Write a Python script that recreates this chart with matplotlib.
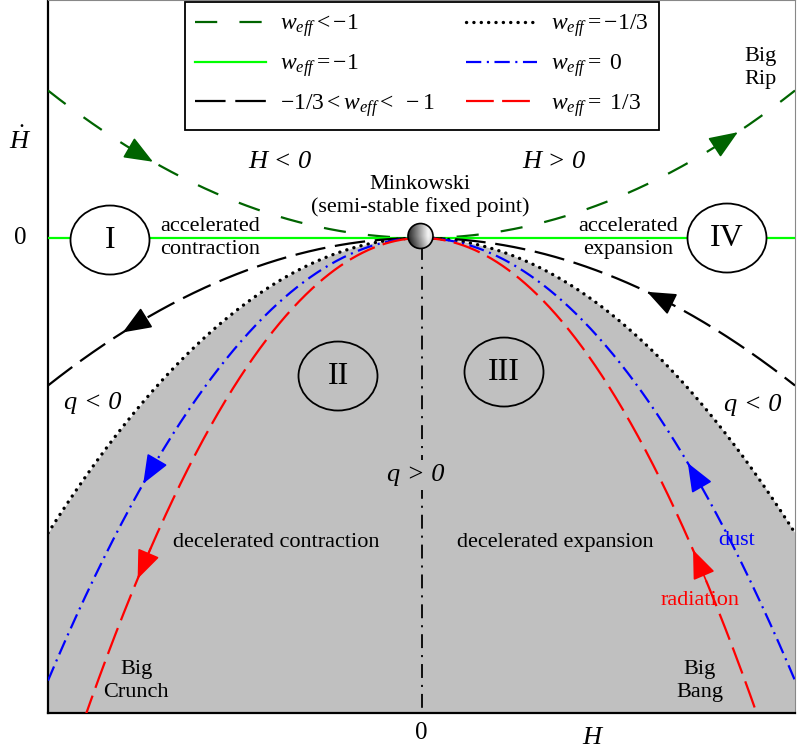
import numpy as np
import matplotlib
matplotlib.use("Agg")
import matplotlib.pyplot as plt
from matplotlib.patches import Ellipse

plt.rcParams["font.family"] = "Liberation Serif"
plt.rcParams["mathtext.fontset"] = "custom"
plt.rcParams["mathtext.rm"] = "Liberation Serif"
plt.rcParams["mathtext.it"] = "Liberation Serif:italic"
plt.rcParams["lines.scale_dashes"] = False

# equation of state values drawn as trajectories  Hdot = -3/2 (1+w) H^2
W_EFF = [-4 / 3, -1.0, -2 / 3, -1 / 3, 0.0, 1 / 3]
LABELS = [r"$\mathit{w_{eff}<-1}$", r"$\mathit{w_{eff}=-1}$", r"$\mathit{-1/3<w_{eff}<\ -1}$",
          r"$\mathit{w_{eff}=-1/3}$", r"$\mathit{w_{eff}=\ 0}$", r"$\mathit{w_{eff}=\ 1/3}$"]
COLORS = ["#006400", "#00ff00", "black", "black", "#0000ff", "#ff0000"]
STYLES = [(0, (16, 16)), "-", (0, (22, 7)), (0, (0.1, 5.2)), (0, (11, 4, 1.5, 4)), (0, (20, 6))]
WIDTHS = [1.6, 1.6, 1.6, 2.4, 1.6, 1.6]
# H where the flow arrows sit (left branch, right branch), None = no arrow
ARROW_H = [(-0.719, 0.847), None, (-0.80, 0.604), None, (-0.745, 0.713), (-0.76, 0.727)]

H = np.linspace(-1.0, 1.0, 801)
XLIM = (-1.0, 1.0)
YLIM = (-1.610, 0.8068)


def px(x, y):
    """pixel position in the reference picture -> data coords (annotation placement)."""
    return (x - 421.5) / 373.5, (238 - y) / 295.0


fig = plt.figure(figsize=(7.97, 7.55), dpi=100)
ax = fig.add_axes([48 / 797, 42 / 755, 747 / 797, 713 / 755])
ax.set_xlim(*XLIM)
ax.set_ylim(*YLIM)

# decelerated region (q > 0) below the w = -1/3 parabola
ax.fill_between(H, -1.0 * H ** 2, YLIM[0], color="#c0c0c0", lw=0, zorder=1)
ax.plot([0, 0], [px(0, 246)[1], YLIM[0]], color="black", lw=1.3,
        linestyle=(0, (10, 5, 1.5, 5)), zorder=2)

handles = []
for w, c, ls, lw in zip(W_EFF, COLORS, STYLES, WIDTHS):
    k = 1.5 * (1 + w)
    ln, = ax.plot(H, -k * H ** 2, color=c, linestyle=ls, lw=lw, zorder=3,
                  dash_capstyle="round" if w == -1 / 3 else "butt")
    handles.append(ln)

for w, c, ah in zip(W_EFF, COLORS, ARROW_H):
    if ah is None:
        continue
    k = 1.5 * (1 + w)
    d = -1 if k > 0 else 1
    for h0 in ah:
        hb = h0 - 0.035 * d
        ax.annotate("", xy=(h0, -k * h0 ** 2), xytext=(hb, -k * hb ** 2),
                    arrowprops=dict(arrowstyle="-|>,head_length=0.75,head_width=0.3",
                                    color=c, lw=1.2, shrinkA=0, shrinkB=0,
                                    mutation_scale=24), zorder=5)

# region labels
for (cx, cy), txt, fc in [((110, 240), "I", "white"), ((338, 376), "II", "#c0c0c0"),
                          ((504, 372), "III", "#c0c0c0"), ((727, 238), "IV", "white")]:
    x0, y0 = px(cx, cy)
    ax.add_patch(Ellipse((x0, y0), 79 / 373.5, 69 / 295.0, facecolor=fc,
                         edgecolor="black", lw=1.3, zorder=4))
    ax.text(x0, y0, txt, ha="center", va="center", fontsize=23, zorder=6)

# Minkowski fixed point (shaded sphere)
mx, my = px(420.5, 236)
rx, ry = 12.5 / 373.5, 12.5 / 295.0
u, v = np.meshgrid(np.linspace(-1, 1, 80), np.linspace(-1, 1, 80))
shade = np.clip(0.15 + 0.8 * (u + 1) / 1.6, 0, 1) - 0.25 * np.clip(u - 0.6, 0, 1) * 2
shade = shade - 0.15 * np.clip(-v, 0, 1)
sph = Ellipse((mx, my), 2 * rx, 2 * ry, facecolor="none", edgecolor="black", lw=1.2, zorder=8)
im = ax.imshow(shade, cmap="gray", vmin=0, vmax=1, extent=(mx - rx, mx + rx, my - ry, my + ry),
               aspect="auto", origin="lower", zorder=7, interpolation="bilinear")
ax.add_patch(sph)
im.set_clip_path(sph)

tk = dict(ha="center", va="center", zorder=6)
two = dict(fontsize=16, linespacing=1.25, **tk)
ax.text(*px(280, 162), "H < 0", fontsize=19, style="italic", **tk)
ax.text(*px(554, 162), "H > 0", fontsize=19, style="italic", **tk)
ax.text(*px(420, 196), "Minkowski\n(semi-stable fixed point)", **two)
ax.text(*px(210, 238), "accelerated\ncontraction", **two)
ax.text(*px(628, 238), "accelerated\nexpansion", **two)
ax.text(*px(93, 403), "q < 0", fontsize=19, style="italic", **tk)
ax.text(*px(753, 405), "q < 0", fontsize=19, style="italic", **tk)
ax.text(*px(416, 475), "q > 0", fontsize=19, style="italic",
        bbox=dict(facecolor="#c0c0c0", edgecolor="none", pad=3), **tk)
ax.text(*px(276, 542), "decelerated contraction", fontsize=16, **tk)
ax.text(*px(555, 542), "decelerated expansion", fontsize=16, **tk)
ax.text(*px(737, 540), "dust", fontsize=16, color="#0000ff", **tk)
ax.text(*px(700, 600), "radiation", fontsize=16, color="#ff0000", **tk)
ax.text(*px(136, 681), "Big\nCrunch", **two)
ax.text(*px(700, 681), "Big\nBang", **two)
ax.text(*px(760, 68), "Big\nRip", **two)

# axes
ax.set_xticks([])
ax.set_yticks([])
for s in ["left", "bottom"]:
    ax.spines[s].set_linewidth(1.6)
for s in ["top", "right"]:
    ax.spines[s].set_color("#888888")
    ax.spines[s].set_linewidth(0.8)
fig.text(20 / 797, 1 - 238 / 755, "0", fontsize=18, ha="center", va="center")
fig.text(421 / 797, 1 - 733 / 755, "0", fontsize=18, ha="center", va="center")
fig.text(593 / 797, 1 - 738 / 755, r"$H$", fontsize=19, ha="center", va="center")
fig.text(20 / 797, 1 - 140 / 755, r"$\dot{H}$", fontsize=19, ha="center", va="center")

leg = ax.legend(handles, LABELS, ncol=2, loc="upper center", fontsize=17,
                bbox_to_anchor=(422 / 797, 1 - 2 / 755), bbox_transform=fig.transFigure,
                borderaxespad=0, handlelength=3.0, labelspacing=0.55, columnspacing=1.3,
                borderpad=0.45, handletextpad=0.6, fancybox=False, framealpha=1,
                edgecolor="black")
leg.get_frame().set_linewidth(1.3)
leg.set_zorder(10)

fig.savefig("out.png", dpi=100)
